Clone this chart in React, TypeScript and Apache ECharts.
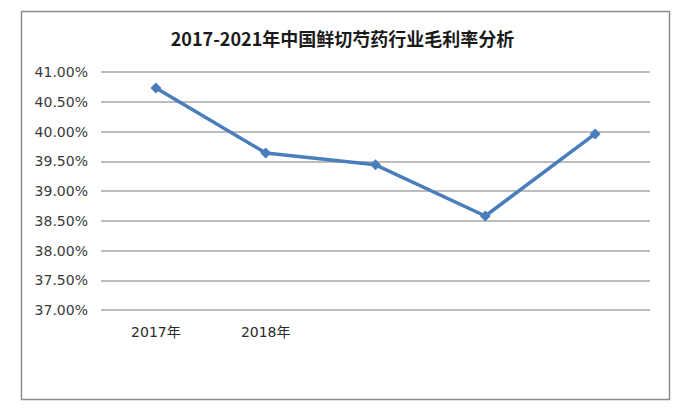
import React, { useEffect, useRef } from "react";
import * as echarts from "echarts";

const title = "2017-2021年中国鲜切芍药行业毛利率分析";
const categories = ["2017年", "2018年", "2019年", "2020年", "2021年"];
// only the first two category labels are legible in the reference
const visibleLabelCount = 2;
const grossMargin = [40.73, 39.64, 39.44, 38.58, 39.96];
const yMin = 37;
const yMax = 41;
const yStep = 0.5;

export default function App() {
  const ref = useRef<HTMLDivElement>(null);
  useEffect(() => {
    document.body.style.margin = "0";
    const chart = echarts.init(ref.current!, undefined, { renderer: "svg" });
    chart.setOption({
      animation: false,
      backgroundColor: "#ffffff",
      title: {
        text: title,
        left: "center",
        top: 24,
        textStyle: {
          fontFamily: "Noto Sans CJK SC",
          fontWeight: "bold",
          fontSize: 18,
          color: "#1a1a1a",
        },
      },
      graphic: [
        {
          type: "rect",
          shape: { x: 21.5, y: 11.5, width: 648, height: 388 },
          style: { fill: "none", stroke: "#8c8c8c", lineWidth: 1.5 },
          silent: true,
        },
      ],
      grid: { left: 101, right: 35, top: 72, bottom: 100 },
      xAxis: {
        type: "category",
        data: categories,
        boundaryGap: true,
        axisLine: { show: false },
        axisTick: { show: false },
        axisLabel: {
          margin: 15,
          fontFamily: "DejaVu Sans, Noto Sans CJK SC",
          fontSize: 14,
          color: "#2a2a2a",
          formatter: (v: string, i: number) => (i < visibleLabelCount ? v : ""),
        },
      },
      yAxis: {
        type: "value",
        min: yMin,
        max: yMax,
        interval: yStep,
        axisLine: { show: false },
        axisTick: { show: false },
        splitLine: { lineStyle: { color: "#a6a6a6", width: 1.5 } },
        axisLabel: {
          margin: 13,
          fontFamily: "DejaVu Sans, Noto Sans CJK SC",
          fontSize: 14,
          color: "#3a3a3a",
          formatter: (v: number) => v.toFixed(2) + "%",
        },
      },
      series: [
        {
          type: "line",
          data: grossMargin,
          symbol: "diamond",
          symbolSize: 11,
          lineStyle: { color: "#4a7ebb", width: 3.5 },
          itemStyle: { color: "#4a7ebb" },
        },
      ],
    });
    return () => chart.dispose();
  }, []);
  return <div ref={ref} style={{ width: 685, height: 410 }} />;
}
